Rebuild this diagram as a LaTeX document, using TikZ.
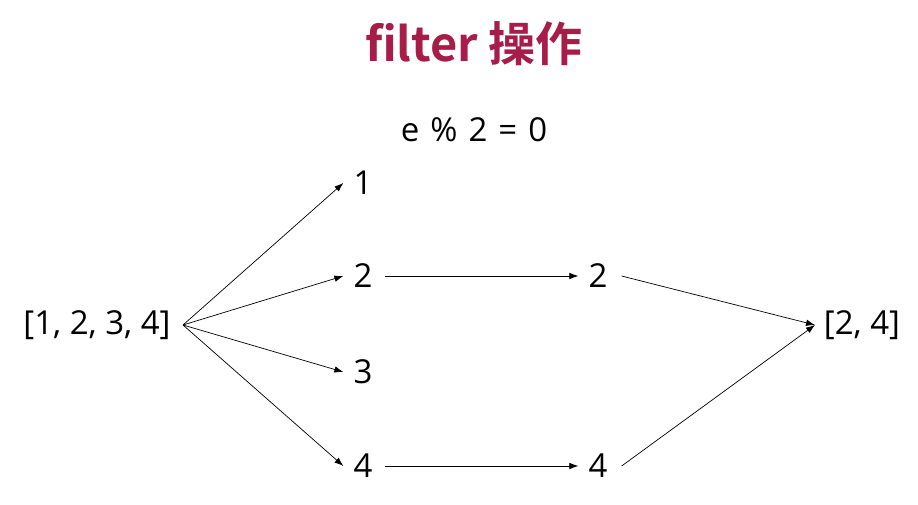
\documentclass[tikz,border=0pt]{standalone}
\usepackage{fontspec}
\setmainfont{Open Sans}
\newfontfamily\cjkbold{Noto Sans CJK SC Bold}
\usetikzlibrary{arrows.meta}
\definecolor{titlered}{HTML}{A81C4A}
\newcommand{\gp}{\hspace{11pt}}
\begin{document}
\begin{tikzpicture}[x=1pt,y=-1pt,
  lbl/.style={inner sep=0pt,font=\fontsize{33}{40}\selectfont},
  arr/.style={-{Latex[length=9pt,width=6.5pt]},line width=0.7pt}]
\useasboundingbox (0,0) rectangle (918,505);
\node[inner sep=0pt,text=titlered,font=\cjkbold\fontsize{47}{56}\selectfont] (title) at (474,44) {filter 操作};
\node[lbl] (cond) at (474,130) {e\gp\%\gp2\gp=\gp0};
\node[lbl] (src) at (97,325) {[1, 2, 3, 4]};
\node[lbl] (a1) at (363,183) {1};
\node[lbl] (a2) at (363,276) {2};
\node[lbl] (a3) at (363,372) {3};
\node[lbl] (a4) at (363,466) {4};
\node[lbl] (b2) at (598,276) {2};
\node[lbl] (b4) at (598,466) {4};
\node[lbl] (res) at (862,325) {[2, 4]};
\coordinate (s) at (183,325);
\coordinate (r) at (815,325);
\draw[arr] (s) -- ([xshift=-10pt]a1.west);
\draw[arr] (s) -- ([xshift=-10pt]a2.west);
\draw[arr] (s) -- ([xshift=-10pt]a3.west);
\draw[arr] (s) -- ([xshift=-10pt]a4.west);
\draw[arr] ([xshift=12pt]a2.east) -- ([xshift=-10pt]b2.west);
\draw[arr] ([xshift=12pt]a4.east) -- ([xshift=-10pt]b4.west);
\draw[arr] ([xshift=14pt]b2.east) -- (r);
\draw[arr] ([xshift=14pt]b4.east) -- (r);
\end{tikzpicture}
\end{document}
